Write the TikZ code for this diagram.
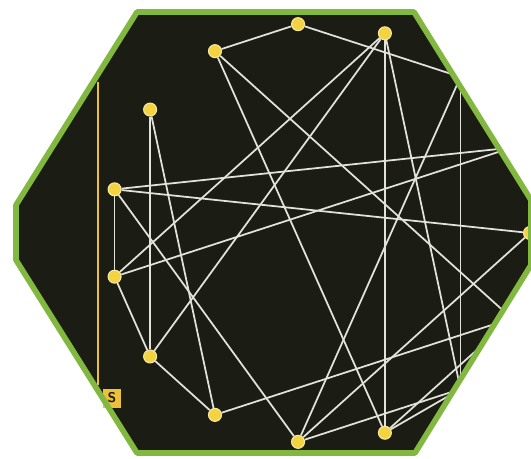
\documentclass[tikz,border=0pt]{standalone}
\usepackage{xcolor}
\usepackage{tikz}
\usetikzlibrary{calc}
\definecolor{BoardDark}{HTML}{1B1D14}
\definecolor{RimGreen}{HTML}{82B840}
\definecolor{DotYellow}{HTML}{F3D341}
\definecolor{DotRim}{HTML}{F8E9A0}
\definecolor{RuleGold}{HTML}{EDC23A}
\definecolor{WireGray}{HTML}{E2E2DA}

\begin{document}
\begin{tikzpicture}[
    x=0.02cm, y=-0.02cm,
    dot/.style={circle, fill=DotYellow, draw=DotRim, line width=0.6pt, minimum size=0.26cm, inner sep=0pt},
    wire/.style={WireGray, line width=1pt},
    rim/.style={RimGreen, line width=3.2pt, line join=round},
    rulebar/.style={RuleGold, line width=1.4pt},
    iconbox/.style={fill=RuleGold, text=BoardDark, font=\sffamily\bfseries\footnotesize, minimum width=0.36cm, minimum height=0.38cm, inner sep=0pt}
]
\useasboundingbox (0,0) rectangle (531,458);

% Board
\def\hexpath{(137,12) -- (414,12) -- (531,200) -- (531,265) -- (415,453) -- (137,453) -- (16,260) -- (16,205) -- cycle}
\fill[BoardDark] \hexpath;

\begin{scope}
\clip \hexpath;
\coordinate (ctr) at (320,233);
% Points on the ring, every 24 degrees; some fall under the rim
\foreach \i in {1,2,13,14} {
    \coordinate (n\i) at ($(ctr)+(24*\i:210)$);
}
\foreach \i in {0,3,4,...,12} {
    \node[dot] (n\i) at ($(ctr)+(24*\i:210)$) {};
}
% Wires
\foreach \a/\b in {10/11, 10/3, 10/1, 11/13, 12/7, 12/6, 12/3, 12/2,
                   13/2, 13/4, 0/8, 0/4, 4/8, 4/2, 5/1, 8/14, 7/14,
                   9/6, 9/5, 6/5, 7/6, 8/7, 3/2, 3/1} {
    \draw[wire] (n\a) -- (n\b);
}
\end{scope}

% Side rule and tab
\coordinate (rtop) at (98,82);
\coordinate (rbot) at (98,385);
\draw[rulebar] (rtop) -- (rbot);
\node[iconbox] (tab) at (112,398) {S};

% Rim
\draw[rim] \hexpath;
\end{tikzpicture}
\end{document}
